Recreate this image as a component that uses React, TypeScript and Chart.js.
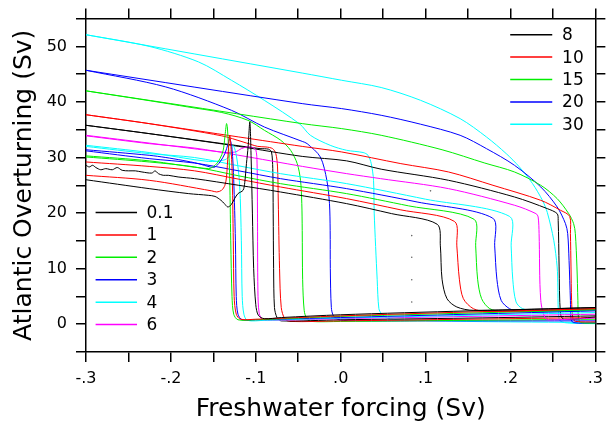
import React, { useEffect, useRef } from "react";
import { Chart, registerables } from "chart.js";

Chart.register(...registerables);

type Pts = [number, number][];

// ---- tick labels ----
const xMajorTicks = [-0.3, -0.2, -0.1, 0, 0.1, 0.2, 0.3];
const xTickLabels = ["-.3", "-.2", "-.1", ".0", ".1", ".2", ".3"];
const yMajorTicks = [0, 10, 20, 30, 40, 50];
const yTickLabels = ["0", "10", "20", "30", "40", "50"];

// ---- legend entries ----
const lowLabels = ["0.1", "1", "2", "3", "4", "6"];
const lowColors = ["#000000", "#ff0000", "#00ee00", "#0000ff", "#00ffff", "#ff00ff"];
const highLabels = ["8", "10", "15", "20", "30"];
const highColors = ["#000000", "#ff0000", "#00ee00", "#0000ff", "#00ffff"];

// ---- series: increasing forcing (fwd) and decreasing forcing (bwd) ----
const fwd01: Pts = [[-0.3,28.6],[-0.2962,28.3],[-0.2922,28.6],[-0.2884,28.2],[-0.2826,27.8],[-0.2767,28.0],[-0.269,27.8],[-0.2632,28.2],[-0.2574,27.7],[-0.2497,27.6],[-0.2419,27.6],[-0.2341,27.4],[-0.2225,27.2],[-0.2186,27.6],[-0.2148,27.1],[-0.209,26.8],[-0.2031,26.8],[-0.1915,26.5],[-0.1721,26.2],[-0.12,25.0],[-0.071,23.8],[0.007,21.7],[0.06,19.9],[0.1136,18.0],[0.1174,14.1],[0.1194,8.1],[0.1252,4.6],[0.1368,3.1],[0.1562,2.5],[0.3,3.0]];
const bwd01: Pts = [[0.3,3.0],[0.15,2.4],[0.0,1.7],[-0.07,1.2],[-0.09,1.0],[-0.097,1.6],[-0.1,3.5],[-0.1025,10],[-0.104,20],[-0.1055,30],[-0.107,36.4],[-0.109,32.0],[-0.111,28.9],[-0.113,25.5],[-0.115,24.1],[-0.121,23.5],[-0.125,22.6],[-0.129,21.5],[-0.133,21.1],[-0.137,21.7],[-0.141,22.3],[-0.148,23.0],[-0.156,23.2],[-0.179,23.5],[-0.2256,24.4],[-0.3,26.0]];
const fwd1: Pts = [[-0.3,29.2],[-0.2256,28.4],[-0.172,27.6],[-0.12,26.1],[-0.071,24.7],[0.007,22.6],[0.07,20.6],[0.134,18.5],[0.1368,14.1],[0.1398,8.1],[0.1445,4.6],[0.1562,2.8],[0.1717,2.3],[0.3,2.8]];
const bwd1: Pts = [[0.3,2.8],[0.15,2.2],[0.0,1.5],[-0.1,0.9],[-0.118,0.9],[-0.123,1.8],[-0.1255,5],[-0.1265,15],[-0.128,28],[-0.1306,34.0],[-0.1326,30.7],[-0.1345,26.5],[-0.1364,25.0],[-0.1403,24.1],[-0.146,23.8],[-0.152,24.0],[-0.2256,25.9],[-0.3,26.8]];
const fwd2: Pts = [[-0.3,30.1],[-0.2256,29.2],[-0.172,28.3],[-0.12,26.7],[-0.071,25.3],[0.007,23.5],[0.08,21.3],[0.157,18.9],[0.159,14.1],[0.1613,8.1],[0.166,4.6],[0.1756,2.8],[0.191,2.3],[0.3,2.7]];
const bwd2: Pts = [[0.3,2.6],[0.15,2.0],[0.0,1.4],[-0.1,0.8],[-0.121,0.8],[-0.126,1.8],[-0.128,5],[-0.1295,15],[-0.131,28],[-0.1335,35.5],[-0.1345,36.1],[-0.1364,33.7],[-0.1384,31.3],[-0.1422,29.8],[-0.148,28.6],[-0.156,28.0],[-0.2256,29.4],[-0.3,30.3]];
const fwd3: Pts = [[-0.3,31.2],[-0.2256,29.8],[-0.172,29.0],[-0.12,27.6],[-0.071,26.2],[0.007,24.4],[0.09,22.0],[0.179,19.1],[0.1814,14.1],[0.184,8.1],[0.189,4.3],[0.1988,2.8],[0.2105,2.3],[0.3,2.6]];
const bwd3: Pts = [[0.3,2.4],[0.15,1.8],[0.0,1.2],[-0.1,0.8],[-0.116,0.8],[-0.121,1.8],[-0.123,5],[-0.124,15],[-0.126,26],[-0.128,31.5],[-0.1306,33.4],[-0.1326,32.5],[-0.1364,30.7],[-0.1422,29.2],[-0.148,28.3],[-0.1538,28.3],[-0.1674,28.9],[-0.1868,29.5],[-0.206,30.0],[-0.2256,30.4],[-0.3,31.4]];
const fwd4: Pts = [[-0.3,32.0],[-0.2256,30.7],[-0.172,30.0],[-0.12,28.5],[-0.071,27.1],[0.007,25.3],[0.1,22.5],[0.199,19.4],[0.2008,14.1],[0.2027,8.1],[0.2066,4.0],[0.2143,2.8],[0.2337,2.2],[0.3,2.5]];
const bwd4: Pts = [[0.3,2.1],[0.15,1.6],[0.0,1.1],[-0.09,0.7],[-0.11,0.7],[-0.114,1.8],[-0.116,5],[-0.117,15],[-0.119,25],[-0.123,30.5],[-0.127,32.2],[-0.1306,30.4],[-0.1364,29.6],[-0.156,29.3],[-0.2256,30.9],[-0.3,32.2]];
const fwd6: Pts = [[-0.3,33.9],[-0.2256,32.5],[-0.172,31.7],[-0.12,30.4],[-0.045,28.4],[0.007,27.1],[0.047,26.2],[0.127,24.4],[0.205,21.4],[0.23,19.9],[0.2326,19.3],[0.2337,16.3],[0.2357,4.3],[0.2415,1.0],[0.2512,0.8],[0.3,1.1]];
const bwd6: Pts = [[0.3,1.8],[0.15,1.4],[0.0,1.0],[-0.08,0.7],[-0.092,0.8],[-0.096,2],[-0.0975,6],[-0.098,20],[-0.0985,29],[-0.1,31.4],[-0.104,31.8],[-0.11,31.9],[-0.117,31.6],[-0.124,31.0],[-0.135,30.9],[-0.2256,32.6],[-0.3,34.0]];
const fwd8: Pts = [[-0.3,35.8],[-0.2256,34.3],[-0.12,32.0],[-0.0453,30.2],[0.007,29.4],[0.0477,27.9],[0.1271,25.9],[0.2047,22.9],[0.2434,20.8],[0.255,19.9],[0.2562,18.7],[0.2573,10.3],[0.2589,1.9],[0.2628,0.9],[0.3,1.3]];
const bwd8: Pts = [[0.3,1.5],[0.15,1.1],[0.0,0.8],[-0.07,0.6],[-0.075,1.2],[-0.078,3],[-0.079,10],[-0.0795,20],[-0.08,28],[-0.0815,31.0],[-0.085,31.5],[-0.095,31.6],[-0.11,31.9],[-0.2256,34.3],[-0.3,35.8]];
const fwd10: Pts = [[-0.3,37.7],[-0.2256,36.1],[-0.12,33.7],[-0.0453,32.0],[0.0012,31.0],[0.0709,28.9],[0.127,27.4],[0.1794,25.0],[0.2357,22.3],[0.259,20.5],[0.2698,19.4],[0.2706,16.3],[0.2713,10.3],[0.272,4.3],[0.2736,1.0],[0.277,0.5],[0.3,0.4]];
const bwd10: Pts = [[0.3,1.2],[0.15,0.9],[0.0,0.6],[-0.06,0.5],[-0.066,1.0],[-0.07,3],[-0.072,10],[-0.0735,22],[-0.0744,28.3],[-0.0764,30.7],[-0.0802,31.6],[-0.088,31.9],[-0.0977,32.0],[-0.115,32.8],[-0.14,33.9],[-0.2256,36.1],[-0.3,37.7]];
const fwd15: Pts = [[-0.3,42.0],[-0.2,39.7],[-0.0453,36.1],[0.0012,35.2],[0.0477,34.0],[0.1194,31.4],[0.1698,29.0],[0.2047,27.4],[0.2357,25.0],[0.255,22.6],[0.2686,19.9],[0.2744,18.1],[0.2764,16.3],[0.2783,10.3],[0.2794,4.3],[0.2802,1.0],[0.283,0.3],[0.3,0.2]];
const bwd15: Pts = [[0.3,0.9],[0.15,0.7],[0.0,0.5],[-0.035,0.5],[-0.04,1.0],[-0.043,2.5],[-0.0448,8],[-0.0453,16.9],[-0.0458,21.7],[-0.0473,25.9],[-0.0512,28.9],[-0.059,31.3],[-0.0706,33.1],[-0.0899,34.9],[-0.1093,36.7],[-0.14,38.1],[-0.18,39.1],[-0.22,40.1],[-0.3,42.0]];
const fwd20: Pts = [[-0.3,45.7],[-0.0453,39.7],[0.0012,38.8],[0.0477,37.6],[0.094,36.0],[0.1407,34.0],[0.1717,31.6],[0.2047,28.6],[0.2357,24.7],[0.255,21.1],[0.2648,18.1],[0.2674,16.3],[0.269,11.5],[0.2706,4.3],[0.2713,1.0],[0.274,0.3],[0.3,0.2]];
const bwd20: Pts = [[0.3,0.6],[0.1,0.6],[0.02,0.6],[-0.002,0.8],[-0.0085,1.5],[-0.011,3],[-0.0122,10],[-0.0124,16.9],[-0.0132,21.7],[-0.0163,25.9],[-0.024,30.1],[-0.0395,32.5],[-0.0453,32.9],[-0.09,35.5],[-0.1287,38.5],[-0.206,42.7],[-0.3,45.7]];
const fwd30: Pts = [[-0.3,52.1],[-0.0453,45.2],[0.0012,43.9],[0.0477,42.6],[0.094,40.3],[0.1407,37.0],[0.1717,33.7],[0.195,30.7],[0.2105,28.3],[0.226,25.3],[0.2376,22.3],[0.2434,20.1],[0.251,15.1],[0.255,10.3],[0.2558,6.7],[0.2564,2.5],[0.2585,0.6],[0.27,0.2],[0.3,0.1]];
const bwd30: Pts = [[0.3,0.3],[0.15,0.5],[0.07,0.8],[0.055,1.1],[0.048,1.9],[0.045,2.8],[0.043,8],[0.0395,20],[0.0387,25.9],[0.036,28.9],[0.0322,30.4],[0.0264,30.9],[0.007,31.3],[-0.0124,32.2],[-0.0357,34.0],[-0.048,36.0],[-0.09,40.3],[-0.1287,43.9],[-0.1674,47.2],[-0.2256,50.0],[-0.3,52.1]];

// faint isolated dots
const dotX = [0.0837, 0.0837, 0.0837, 0.0837, 0.1058];
const dotY = [4.0, 8.0, 12.05, 15.95, 24.0];

const lowSeries: Pts[][] = [[fwd01, bwd01], [fwd1, bwd1], [fwd2, bwd2], [fwd3, bwd3], [fwd4, bwd4], [fwd6, bwd6]];
const highSeries: Pts[][] = [[fwd8, bwd8], [fwd10, bwd10], [fwd15, bwd15], [fwd20, bwd20], [fwd30, bwd30]];

const FONT = "'DejaVu Sans', sans-serif";

function tickLabel(v: number, vals: number[], labels: string[]) {
  const i = vals.findIndex((t) => Math.abs(t - v) < 1e-6);
  return i >= 0 ? labels[i] : "";
}

const legendPlugin = {
  id: "twoLegends",
  afterDatasetsDraw(chart: any) {
    const { ctx, scales } = chart;
    const xs = scales.x;
    const ys = scales.y;
    ctx.save();
    ctx.font = `17px ${FONT}`;
    ctx.textBaseline = "middle";
    ctx.textAlign = "left";
    ctx.lineWidth = 1.5;
    const block = (labels: string[], colors: string[], x0: number, x1: number, xt: number, yTop: number) => {
      const p0 = xs.getPixelForValue(x0);
      const p1 = xs.getPixelForValue(x1);
      const pt = xs.getPixelForValue(xt);
      const top = ys.getPixelForValue(yTop);
      labels.forEach((lab, i) => {
        const py = top + i * 22.4;
        ctx.strokeStyle = colors[i];
        ctx.beginPath();
        ctx.moveTo(p0, py);
        ctx.lineTo(p1, py);
        ctx.stroke();
        ctx.fillStyle = "#000";
        ctx.fillText(lab, pt, py + 1);
      });
    };
    block(lowLabels, lowColors, -0.2887, -0.2399, -0.2287, 20.1);
    block(highLabels, highColors, 0.1997, 0.2492, 0.2608, 52.1);
    ctx.restore();
  },
};

export default function App() {
  const ref = useRef<HTMLCanvasElement | null>(null);
  useEffect(() => {
    document.body.style.margin = "0";
    const datasets: any[] = [];
    const addGroup = (series: Pts[][], colors: string[], labels: string[]) => {
      series.forEach((pair, i) => {
        pair.forEach((pts, j) => {
          datasets.push({
            type: "line",
            label: `${labels[i]}-${j}`,
            data: pts.map(([x, y]) => ({ x, y })),
            borderColor: colors[i],
            borderWidth: 1,
            pointRadius: 0,
            fill: false,
            tension: 0.3,
            xAxisID: "x",
            yAxisID: "y",
          });
        });
      });
    };
    addGroup(lowSeries, lowColors, lowLabels);
    addGroup(highSeries, highColors, highLabels);
    datasets.push({
      type: "scatter",
      label: "dots",
      data: dotX.map((x, i) => ({ x, y: dotY[i] })),
      pointRadius: 0.8,
      pointBorderWidth: 0,
      backgroundColor: "#666",
      xAxisID: "x",
      yAxisID: "y",
    });

    const axisCommon = {
      grid: { drawOnChartArea: false, drawTicks: true, tickLength: 10, color: "#000", lineWidth: 1.5 },
      border: { display: true, color: "#000", width: 1.5 },
    };

    const chart = new Chart(ref.current as HTMLCanvasElement, {
      type: "line",
      data: { datasets },
      plugins: [legendPlugin],
      options: {
        animation: false,
        responsive: false,
        maintainAspectRatio: false,
        events: [],
        layout: { padding: { top: 8, right: 0, left: 0, bottom: 0 } },
        plugins: { legend: { display: false }, tooltip: { enabled: false } },
        scales: {
          x: {
            type: "linear",
            position: "bottom",
            min: -0.3,
            max: 0.3,
            afterFit: (s: any) => { s.height = 72; },
            ticks: {
              stepSize: 0.05,
              autoSkip: false,
              maxRotation: 0,
              padding: 7,
              color: "#000",
              font: { family: FONT, size: 16 },
              callback: (v: any) => tickLabel(Number(v), xMajorTicks, xTickLabels),
            },
            ...axisCommon,
            title: {
              display: true,
              text: "Freshwater forcing (Sv)",
              color: "#000",
              font: { family: FONT, size: 25 },
              padding: { top: 0, bottom: 0 },
            },
          },
          y: {
            type: "linear",
            position: "left",
            min: -5,
            max: 55,
            afterFit: (s: any) => { s.width = 86; },
            ticks: {
              stepSize: 5,
              autoSkip: false,
              padding: 9,
              color: "#000",
              font: { family: FONT, size: 16 },
              callback: (v: any) => tickLabel(Number(v), yMajorTicks, yTickLabels),
            },
            ...axisCommon,
            title: {
              display: true,
              text: "Atlantic Overturning (Sv)",
              color: "#000",
              font: { family: FONT, size: 25 },
              padding: { top: 9, bottom: 0 },
            },
          },
          x2: {
            type: "linear",
            position: "top",
            min: -0.3,
            max: 0.3,
            afterFit: (s: any) => { s.height = 10; },
            ticks: { display: false, stepSize: 0.05, autoSkip: false },
            ...axisCommon,
          },
          y2: {
            type: "linear",
            position: "right",
            min: -5,
            max: 55,
            afterFit: (s: any) => { s.width = 8; },
            ticks: { display: false, stepSize: 5, autoSkip: false },
            ...axisCommon,
          },
        },
      } as any,
    });
    return () => chart.destroy();
  }, []);

  return (
    <div style={{ width: 610, height: 424 }}>
      <canvas ref={ref} width={610} height={424} style={{ display: "block" }} />
    </div>
  );
}
